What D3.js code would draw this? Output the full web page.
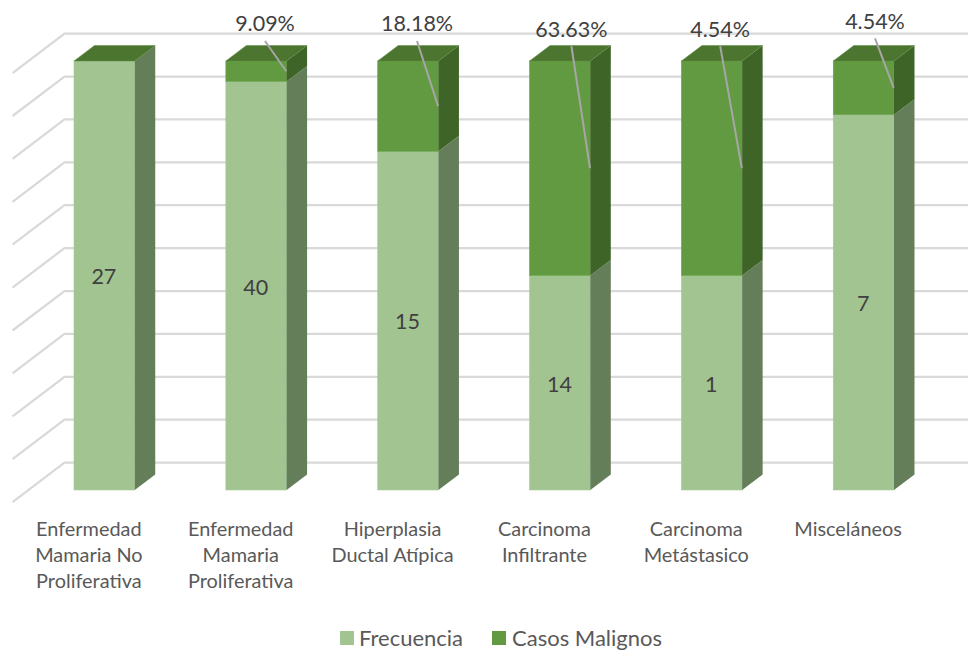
<!DOCTYPE html>
<html><head><meta charset="utf-8">
<script src="https://cdn.jsdelivr.net/npm/d3@7"></script>
<style>html,body{margin:0;padding:0;background:#fff}svg{display:block}text{font-family:Lato,"Open Sans",sans-serif}</style>
</head><body><svg id="c" width="968" height="650"></svg>
<script>
const categories=["Enfermedad\nMamaria No\nProliferativa","Enfermedad\nMamaria\nProliferativa","Hiperplasia\nDuctal Atípica","Carcinoma\nInfiltrante","Carcinoma\nMetástasico","Misceláneos"];
const frecuencia=[27,40,15,14,1,7];
const casosMalignos=[0,2,4,14,1,1];
const malignosLabels=[null,"9.09%","18.18%","63.63%","4.54%","4.54%"];
const seriesNames=["Frecuencia","Casos Malignos"];

// layout
const W=968,H=650,depthX=20.5,depthY=15.5;
const wallDY=-27.4,backX=64.5,floorX=12.5;
const labelSpot=[null,[265,31,265,41],[417,31,417,41],[571.4,37,571.4,46],[720.2,37,720.2,46],[875,29,875,38.3]];
const palette={Frecuencia:{front:"#a2c490",side:"#657e5a",edge:"#a9cb97"},"Casos Malignos":{front:"#619a40",side:"#3f6427",edge:"#6ca34c"}};
const topColor="#4c752f";

const svg=d3.select("#c");
const idx=d3.range(categories.length);
const x=d3.scaleBand().domain(idx).range([74,894]).paddingInner(0.6).paddingOuter(0);
const y=d3.scaleLinear().domain([0,1]).range([490,61]);
const rows=idx.map(i=>({i,Frecuencia:frecuencia[i],"Casos Malignos":casosMalignos[i]}));
const stacked=d3.stack().keys(seriesNames).offset(d3.stackOffsetExpand)(rows);

// grid
const grid=svg.append("g").attr("stroke","#d9d9d9").attr("stroke-width",2.25).attr("fill","none");
y.ticks(10).forEach(t=>{
  const gy=y(t)+wallDY;
  grid.append("path").attr("d",`M${floorX},${gy+39.5}L${backX},${gy}L${W},${gy}`);
});

// bars
const bars=svg.append("g");
stacked.forEach(s=>{
  const c=palette[s.key];
  s.forEach((d,i)=>{
    const x0=x(i),x1=x0+x.bandwidth(),yB=y(d[0]),yT=y(d[1]);
    if(yB-yT<=0) return;
    const g=bars.append("g");
    g.append("rect").attr("x",x0).attr("y",yT).attr("width",x1-x0).attr("height",yB-yT).attr("fill",c.front).attr("stroke",c.edge).attr("stroke-width",.6);
    g.append("polygon").attr("points",[[x1,yT],[x1+depthX,yT-depthY],[x1+depthX,yB-depthY],[x1,yB]].join(" ")).attr("fill",c.side);
  });
});
// caps
idx.forEach(i=>{
  const x0=x(i),x1=x0+x.bandwidth(),yT=y(1);
  bars.append("polygon").attr("points",[[x0,yT],[x1,yT],[x1+depthX,yT-depthY],[x0+depthX,yT-depthY]].join(" ")).attr("fill",topColor).attr("stroke","#5b8a3f").attr("stroke-width",.5);
});

// frecuencia labels
const labels=svg.append("g").attr("font-size",21.5).attr("fill","#404040").attr("text-anchor","middle");
stacked[0].forEach((d,i)=>{
  labels.append("text").attr("x",x(i)+x.bandwidth()/2-0.5).attr("y",(y(d[0])+y(d[1]))/2+1.3).attr("dy","0.35em").text(frecuencia[i]);
});
// malignos labels with leaders
stacked[1].forEach((d,i)=>{
  if(!malignosLabels[i]) return;
  const p=labelSpot[i];
  const ex=x(i)+x.bandwidth()-0.3, ey=(y(d[0])+y(d[1]))/2;
  svg.append("line").attr("x1",p[2]).attr("y1",p[3]).attr("x2",ex).attr("y2",ey).attr("stroke","#a6a6a6").attr("stroke-width",2);
  labels.append("text").attr("x",p[0]).attr("y",p[1]).text(malignosLabels[i]);
});

// x labels
const xl=svg.append("g").attr("font-size",19.9).attr("fill","#595959").attr("text-anchor","middle");
categories.forEach((c,i)=>{
  c.split("\n").forEach((l,j)=>{
    xl.append("text").attr("x",x(i)+x.bandwidth()/2-15.5).attr("y",535.5+j*26.3).text(l);
  });
});

// legend
const lg=svg.append("g").attr("font-size",22).attr("fill","#595959");
[[340,359],[492,512]].forEach((p,k)=>{
  lg.append("rect").attr("x",p[0]).attr("y",631).attr("width",14).attr("height",14).attr("fill",palette[seriesNames[k]].front);
  lg.append("text").attr("x",p[1]).attr("y",645.5).text(seriesNames[k]);
});
</script></body></html>
